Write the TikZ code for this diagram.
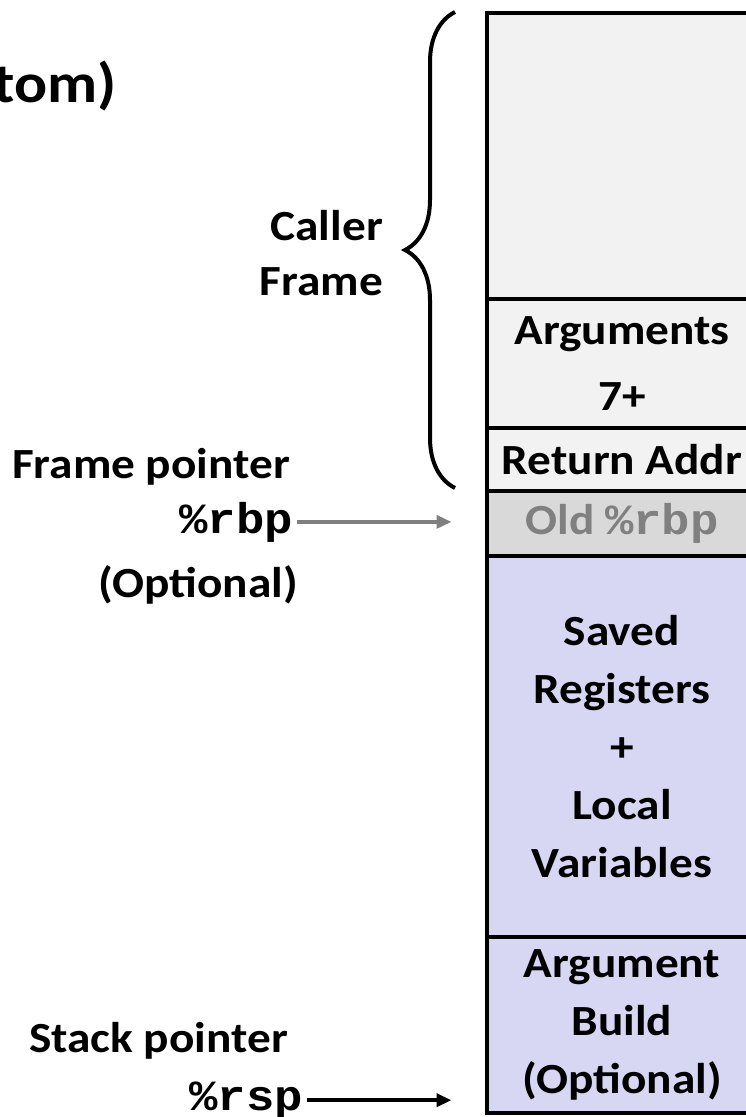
\documentclass[tikz,border=0pt]{standalone}
\usepackage{fontspec}
\setmainfont{Carlito}[FakeStretch=1.1]
\newfontfamily\codefont{Liberation Mono}[FakeStretch=1.1]
\usetikzlibrary{arrows.meta, positioning, decorations.pathreplacing}
\definecolor{cellgray}{HTML}{F2F2F2}
\definecolor{oldgray}{HTML}{D9D9D9}
\definecolor{oldtext}{HTML}{808080}
\definecolor{framefill}{HTML}{D7D7F3}
\newcommand{\reg}[1]{{\codefont\bfseries #1}}
\tikzset{
  slot/.style={draw=black, line width=4pt, fill=cellgray, outer sep=0pt, inner sep=0pt,
               minimum width=271pt, align=center,
               font=\fontsize{43}{58}\selectfont\bfseries},
  callee/.style={slot, fill=framefill},
  lbl/.style={anchor=base east, align=right, inner sep=0pt,
              font=\fontsize{43}{55}\selectfont\bfseries},
  ptr/.style={-{Triangle[length=15pt, width=13pt]}, line width=3.5pt},
}

\begin{document}
\begin{tikzpicture}[x=1pt, y=-1pt, node distance=0pt]
  \useasboundingbox (0,0) rectangle (746,1117);
  \clip (0,0) rectangle (746,1117);
  % stack cells, top to bottom
  \node (caller) [slot, minimum height=286pt] at (622,156) {};
  \node (args) [slot, minimum height=129pt, below=of caller,
                font=\fontsize{43}{66}\selectfont\bfseries] {Arguments\\7+};
  \node (ret) [slot, minimum height=63pt, below=of args] {Return Addr};
  \node (old) [slot, minimum height=65pt, fill=oldgray, text=oldtext, below=of ret] {Old \reg{\%rbp}};
  \node (saved) [callee, minimum height=381pt, below=of old] {Saved\\Registers\\+\\Local\\Variables};
  \node (build) [callee, minimum height=176pt, below=of saved] {Argument\\Build\\(Optional)};
  % labels on the left
  \node (bottom) [lbl, font=\fontsize{56}{60}\selectfont\bfseries] at (117,102) {tom)};
  \node (frame) [lbl] at (383,295) {Caller\\Frame};
  \node (fp) [lbl] at (290,478) {Frame pointer};
  \node (rbp) [lbl] at (293,533) {\reg{\%rbp}};
  \node (opt) [lbl] at (298,597) {(Optional)};
  \node (sp) [lbl] at (288,1052) {Stack pointer};
  \node (rsp) [lbl] at (303,1110) {\reg{\%rsp}};
  \draw[decorate, decoration={brace, amplitude=50pt}, line width=4pt] (455,488) -- (455,12);
  \draw[ptr, draw=oldtext, fill=oldtext, shorten <=4pt, shorten >=35pt] (rbp.east) -- (rbp.east -| old.west);
  \draw[ptr, shorten <=4pt, shorten >=35pt] (rsp.east) -- (rsp.east -| build.west);
\end{tikzpicture}
\end{document}
